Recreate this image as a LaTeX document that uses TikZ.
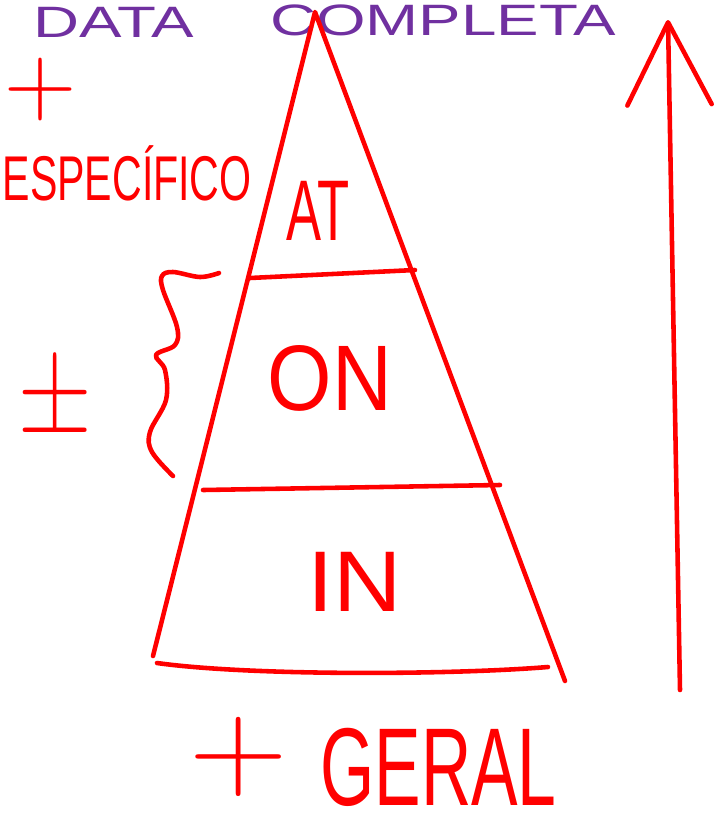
\documentclass[tikz,border=0pt]{standalone}
\usepackage{fontspec}
\usepackage{graphicx}
\usetikzlibrary{arrows.meta,calc}
\newfontfamily\handfont{Liberation Sans}
\definecolor{InkRed}   {RGB}{255,  0,  0}
\definecolor{InkPurple}{RGB}{112, 48,160}
\newcommand{\hscale}[2]{\scalebox{#1}[1]{#2}}
\tikzset{
  ink/.style={InkRed,line width=2.6pt,line cap=round,line join=round},
  word/.style={inner sep=0pt,text=InkRed},
  layer/.style={word,font=\handfont\fontsize{49}{55}\selectfont},
}

\begin{document}
\begin{tikzpicture}[x=0.02cm,y=-0.02cm]
        \useasboundingbox (0,0) rectangle (719,836);
        \node[word,text=InkPurple,anchor=base west,font=\handfont\fontsize{25}{30}\selectfont]
          (data) at (33,37) {\hscale{1.45}{DATA}};
        \node[word,text=InkPurple,anchor=base west,font=\handfont\fontsize{25}{30}\selectfont]
          (completa) at (270,35) {\hscale{1.45}{COMPLETA}};
        \node[word,font=\fontsize{57}{60}\selectfont] (plustop) at (41,90) {+};
        \node[word,anchor=base east,font=\handfont\fontsize{36}{42}\selectfont]
          (especifico) at (252,200) {\hscale{0.65}{ESPECÍFICO}};
        \node[word,font=\fontsize{58}{60}\selectfont] (plusminus) at (55,393)
          {\scalebox{1}[1.25]{±}};
        % pyramid
        \coordinate (apex) at (315,12);
        \coordinate (bl) at (153,656);
        \coordinate (br) at (565,681);
        \coordinate (cutAl) at (250,278);
        \coordinate (cutAr) at (415,270);
        \coordinate (cutBl) at (203,490);
        \coordinate (cutBr) at (500,485);
        \coordinate (basel) at (157,663);
        \coordinate (baser) at (548,667);
        \draw[ink] (bl) -- (apex) -- (br);
        \draw[ink] (cutAl) -- (cutAr);
        \draw[ink] (cutBl) -- (cutBr);
        \draw[ink] (basel) .. controls (250,676) and (450,675) .. (baser);
        \node[layer] (layerAT) at (318,211) {\hscale{0.61}{AT}};
        \node[layer,font=\handfont\fontsize{53}{58}\selectfont] (layerON) at (330,378) {\hscale{0.89}{ON}};
        \node[layer] (layerIN) at (355,582) {\hscale{1.1}{IN}};
        \draw[ink] plot[smooth,tension=0.6] coordinates {(219,273) (200,277) (173,272) (162,276)
          (163,290) (177,327) (175,345) (156,355) (165,370) (166,400) (150,432) (152,452) (173,476)};
        \node[word,font=\fontsize{72}{76}\selectfont] (plusbottom) at (239,757) {\hscale{1.08}{+}};
        \node[word,anchor=base west,font=\handfont\fontsize{63}{70}\selectfont]
          (geral) at (320,805) {\hscale{0.63}{GERAL}};
        \coordinate (arrowfoot) at (680,690);
        \coordinate (arrowtip) at (668,20);
        \draw[ink,-{Straight Barb[length=47pt,width=48pt,round]}] (arrowfoot) -- (arrowtip);
\end{tikzpicture}
\end{document}
